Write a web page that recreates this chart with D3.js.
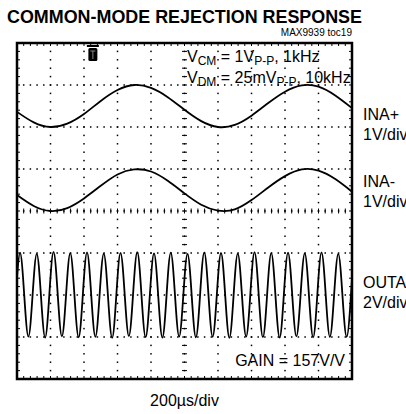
<!DOCTYPE html>
<html lang="en">
	<head>
		<meta charset="utf-8">
		<title>Common-Mode Rejection Response</title>
		<script type="text/javascript" src="https://cdn.jsdelivr.net/npm/d3@7"></script>
		<style type="text/css">
			body {
				margin: 0;
				background-color: white;
			}
			text {
				font-family: "Liberation Sans", Arial, sans-serif;
				fill: black;
			}
		</style>
	</head>
	<body>
		<script type="text/javascript">

			//Width and height
			var w = 406;
			var h = 414;

			//Screen box (10 x 8 divisions)
			var boxL = 17, boxR = 352, boxT = 43, boxB = 379;

			//Sample times for the 1kHz traces (us)
			var timeUs = [0, 100, 200, 300, 400, 500, 600, 700, 800, 900, 1000,
				1100, 1200, 1300, 1400, 1500, 1600, 1700, 1800, 1900, 2000];

			//INA+ and INA- (volts)
			var inaPlusV = [-0.14, -0.39, -0.50, -0.42, -0.19, 0.12, 0.38, 0.50, 0.43, 0.21, -0.09,
				-0.36, -0.50, -0.45, -0.23, 0.07, 0.34, 0.49, 0.46, 0.25, -0.05];
			var inaMinusV = [-0.12, -0.38, -0.50, -0.43, -0.20, 0.10, 0.37, 0.49, 0.44, 0.22, -0.08,
				-0.35, -0.49, -0.46, -0.24, 0.06, 0.33, 0.49, 0.46, 0.26, -0.04];

			//OUTA peaks and troughs (us, volts)
			var outaTimeUs = [0, 18, 68, 118, 168, 218, 268, 318, 368, 418, 468, 518, 568, 618, 668,
				718, 768, 818, 868, 918, 968, 1018, 1068, 1118, 1168, 1218, 1268, 1318, 1368,
				1418, 1468, 1518, 1568, 1618, 1668, 1718, 1768, 1818, 1868, 1918, 1968, 2000];
			var outaV = [0.85, 2.02, -1.98, 1.96, -2.03, 2.05, -1.97, 1.99, -2.02, 2.03, -1.99,
				1.97, -2.04, 2.01, -1.96, 2.04, -2.01, 1.98, -2.03, 2.02, -1.98, 1.96, -2.02,
				2.03, -1.99, 2.00, -2.04, 1.97, -1.98, 2.04, -2.01, 1.99, -2.03, 2.02, -1.97,
				1.98, -2.02, 2.03, -2.00, 1.96, -1.99, 0.80];

			//Channel settings: volts per division, ground level in divisions
			var channels = [
				{ name: "INA+", scale: "1V/div", vPerDiv: 1, level: 2.5 },
				{ name: "INA-", scale: "1V/div", vPerDiv: 1, level: 0.5 },
				{ name: "OUTA", scale: "2V/div", vPerDiv: 2, level: -2 }
			];

			var titleText = "COMMON-MODE REJECTION RESPONSE";
			var tocText = "MAX9939 toc19";
			var timebaseText = "200\u00b5s/div";
			var gainText = "GAIN = 157V/V";
			var triggerUs = 453;

			//Scales: time across, divisions up
			var xScale = d3.scaleLinear().domain([0, 2000]).range([boxL, boxR]);
			var yScale = d3.scaleLinear().domain([-4, 4]).range([boxB, boxT]);
			var divX = d3.scaleLinear().domain([0, 10]).range([boxL, boxR]);

			//Create SVG element
			var svg = d3.select("body")
						.append("svg")
						.attr("width", w)
						.attr("height", h);

			//Title
			svg.append("text")
				.attr("x", 7)
				.attr("y", 23)
				.attr("textLength", 355)
				.attr("lengthAdjust", "spacingAndGlyphs")
				.style("font-size", "19px")
				.style("font-weight", "bold")
				.text(titleText);

			svg.append("text")
				.attr("x", 352)
				.attr("y", 36)
				.attr("text-anchor", "end")
				.style("font-size", "10px")
				.text(tocText);

			//Graticule dots
			var grid = svg.append("g");
			var minorX = d3.range(0, 50.01, 1).map(function(i) { return i / 5; });
			var minorY = d3.range(-20, 20.01, 1).map(function(i) { return i / 5; });

			//vertical dotted lines
			d3.range(1, 10).forEach(function(d) {
				grid.selectAll(null)
					.data(minorY)
					.enter()
					.append("rect")
					.attr("x", divX(d) - 0.75)
					.attr("y", function(v) { return yScale(v) - 0.75; })
					.attr("width", 1.5)
					.attr("height", 1.5);
			});

			//horizontal dotted lines
			d3.range(-3, 4).forEach(function(d) {
				grid.selectAll(null)
					.data(minorX)
					.enter()
					.append("rect")
					.attr("x", function(v) { return divX(v) - 0.75; })
					.attr("y", yScale(d) - 0.75)
					.attr("width", 1.5)
					.attr("height", 1.5);
			});

			//centre axis ticks
			grid.selectAll(null)
				.data(minorX)
				.enter()
				.append("line")
				.attr("x1", function(v) { return divX(v); })
				.attr("x2", function(v) { return divX(v); })
				.attr("y1", yScale(0) - 2.5)
				.attr("y2", yScale(0) + 2.5)
				.attr("stroke", "black")
				.attr("stroke-width", 1);

			grid.selectAll(null)
				.data(minorY)
				.enter()
				.append("line")
				.attr("x1", divX(5) - 2.5)
				.attr("x2", divX(5) + 2.5)
				.attr("y1", function(v) { return yScale(v); })
				.attr("y2", function(v) { return yScale(v); })
				.attr("stroke", "black")
				.attr("stroke-width", 1);

			//border ticks
			grid.selectAll(null)
				.data(minorX)
				.enter()
				.append("path")
				.attr("d", function(v) {
					var x = divX(v);
					return "M" + x + "," + boxT + "V" + (boxT + 3) + "M" + x + "," + boxB + "V" + (boxB - 3);
				})
				.attr("stroke", "black")
				.attr("stroke-width", 1);

			grid.selectAll(null)
				.data(minorY)
				.enter()
				.append("path")
				.attr("d", function(v) {
					var y = yScale(v);
					return "M" + boxL + "," + y + "H" + (boxL + 3) + "M" + boxR + "," + y + "H" + (boxR - 3);
				})
				.attr("stroke", "black")
				.attr("stroke-width", 1);

			//Screen frame
			svg.append("rect")
				.attr("x", boxL)
				.attr("y", boxT)
				.attr("width", boxR - boxL)
				.attr("height", boxB - boxT)
				.attr("fill", "none")
				.attr("stroke", "black")
				.attr("stroke-width", 2.5);

			//Trigger marker
			var tx = xScale(triggerUs);
			svg.append("rect")
				.attr("x", tx - 4.5)
				.attr("y", boxT + 5)
				.attr("width", 9)
				.attr("height", 13)
				.attr("rx", 1.5)
				.attr("fill", "black");
			svg.append("path")
				.attr("d", "M" + (tx - 6) + "," + (boxT + 3) + "H" + (tx + 6))
				.attr("stroke", "black")
				.attr("stroke-width", 2);
			svg.append("path")
				.attr("d", "M" + (tx - 2.5) + "," + (boxT + 8) + "H" + (tx + 2.5) + "M" + tx + "," + (boxT + 8) + "V" + (boxT + 16))
				.attr("stroke", "#888")
				.attr("stroke-width", 1);

			//Traces
			var toDiv = function(ch) {
				return function(v) { return yScale(v / ch.vPerDiv + ch.level); };
			};

			var line = function(ch, curve) {
				var yv = toDiv(ch);
				return d3.line()
					.x(function(d) { return xScale(d[0]); })
					.y(function(d) { return yv(d[1]); })
					.curve(curve);
			};

			var traces = [
				{ ch: channels[0], pts: d3.zip(timeUs, inaPlusV), curve: d3.curveNatural },
				{ ch: channels[1], pts: d3.zip(timeUs, inaMinusV), curve: d3.curveNatural },
				{ ch: channels[2], pts: d3.zip(outaTimeUs, outaV), curve: d3.curveMonotoneX }
			];

			svg.selectAll(".trace")
				.data(traces)
				.enter()
				.append("path")
				.attr("class", "trace")
				.attr("d", function(t) { return line(t.ch, t.curve)(t.pts); })
				.attr("fill", "none")
				.attr("stroke", "black")
				.attr("stroke-width", 1.8)
				.attr("stroke-linejoin", "round");

			//Source labels inside the screen
			var note = svg.append("text")
				.attr("x", 187)
				.attr("y", 62)
				.style("font-size", "16px");
			note.append("tspan").text("V");
			note.append("tspan").attr("dy", 3).style("font-size", "12px").text("CM");
			note.append("tspan").attr("dy", -3).text(" = 1V");
			note.append("tspan").attr("dy", 3).style("font-size", "12px").text("P-P");
			note.append("tspan").attr("dy", -3).text(", 1kHz");

			var note2 = svg.append("text")
				.attr("x", 187)
				.attr("y", 83)
				.style("font-size", "16px");
			note2.append("tspan").text("V");
			note2.append("tspan").attr("dy", 3).style("font-size", "12px").text("DM");
			note2.append("tspan").attr("dy", -3).text(" = 25mV");
			note2.append("tspan").attr("dy", 3).style("font-size", "12px").text("P-P");
			note2.append("tspan").attr("dy", -3).text(", 10kHz");

			svg.append("text")
				.attr("x", 345)
				.attr("y", 366)
				.attr("text-anchor", "end")
				.style("font-size", "16px")
				.text(gainText);

			//Channel labels on the right
			var labelY = [120, 187, 288];
			channels.forEach(function(ch, i) {
				svg.append("text")
					.attr("x", 363)
					.attr("y", labelY[i])
					.style("font-size", "16px")
					.text(ch.name);
				svg.append("text")
					.attr("x", 363)
					.attr("y", labelY[i] + 20)
					.style("font-size", "16px")
					.text(ch.scale);
			});

			//Time base
			svg.append("text")
				.attr("x", divX(5))
				.attr("y", 406)
				.attr("text-anchor", "middle")
				.style("font-size", "16px")
				.text(timebaseText);

		</script>
	</body>
</html>
